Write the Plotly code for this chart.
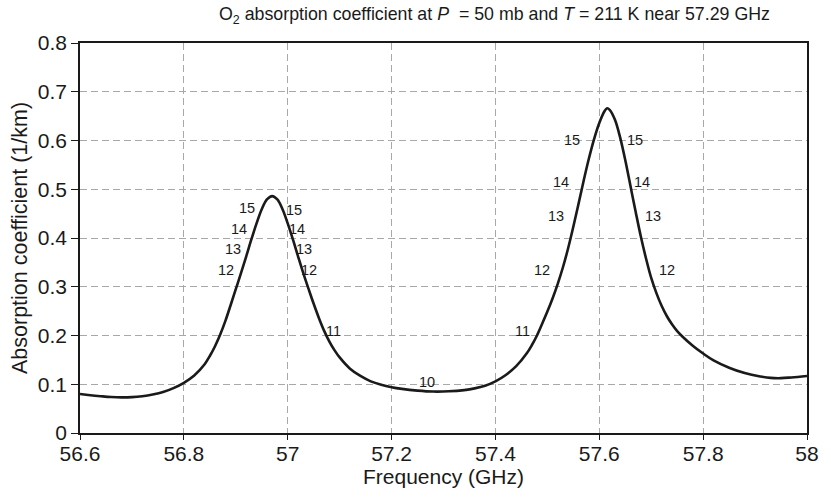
import plotly.graph_objects as go

# Curve
freq_ghz = [56.60, 56.62, 56.64, 56.66, 56.68, 56.70, 56.72, 56.74, 56.76, 56.78,
            56.80, 56.82, 56.84, 56.85, 56.86, 56.87, 56.88, 56.89, 56.90, 56.91,
            56.92, 56.93, 56.94, 56.95, 56.96, 56.97, 56.98, 56.99, 57.00, 57.01,
            57.02, 57.03, 57.04, 57.05, 57.06, 57.07, 57.08, 57.09, 57.10, 57.12,
            57.14, 57.16, 57.18, 57.20, 57.22, 57.25, 57.28, 57.31, 57.34, 57.36,
            57.38, 57.40, 57.42, 57.44, 57.46, 57.47, 57.48, 57.49, 57.50, 57.51,
            57.52, 57.53, 57.54, 57.55, 57.56, 57.57, 57.58, 57.59, 57.60, 57.61,
            57.615, 57.62, 57.63, 57.64, 57.65, 57.66, 57.67, 57.68, 57.69, 57.70,
            57.71, 57.72, 57.73, 57.74, 57.75, 57.76, 57.78, 57.80, 57.82, 57.85,
            57.88, 57.91, 57.93, 57.95, 57.97, 58.00]
absorption = [0.0800, 0.0775, 0.0755, 0.0738, 0.0730, 0.0735, 0.0755, 0.0790, 0.0840, 0.0920,
              0.103, 0.118, 0.141, 0.158, 0.178, 0.202, 0.230, 0.262, 0.295, 0.328,
              0.362, 0.397, 0.430, 0.459, 0.479, 0.486, 0.479, 0.459, 0.430, 0.397,
              0.362, 0.328, 0.296, 0.265, 0.236, 0.210, 0.188, 0.170, 0.155, 0.132,
              0.117, 0.106, 0.099, 0.094, 0.0905, 0.0870, 0.0850, 0.0855, 0.0880, 0.0915,
              0.097, 0.106, 0.119, 0.137, 0.163, 0.180, 0.200, 0.224, 0.249, 0.276,
              0.306, 0.340, 0.379, 0.423, 0.470, 0.518, 0.563, 0.603, 0.636, 0.660,
              0.666, 0.663, 0.643, 0.607, 0.560, 0.507, 0.454, 0.403, 0.358, 0.318,
              0.287, 0.261, 0.240, 0.223, 0.209, 0.198, 0.179, 0.163, 0.149, 0.134,
              0.123, 0.116, 0.1130, 0.1125, 0.114, 0.117]

# Line labels along the curve
label_text = ["15", "14", "13", "12", "15", "14", "13", "12", "11", "10",
              "11", "12", "13", "14", "15", "15", "14", "13", "12"]
label_x = [56.921, 56.906, 56.894, 56.881, 57.012, 57.017, 57.031, 57.041, 57.088, 57.268,
           57.452, 57.490, 57.516, 57.526, 57.548, 57.668, 57.682, 57.703, 57.731]
label_y = [0.461, 0.418, 0.377, 0.334, 0.457, 0.418, 0.377, 0.334, 0.210, 0.105,
           0.210, 0.334, 0.445, 0.515, 0.602, 0.602, 0.515, 0.445, 0.334]

x_ticks = [56.6, 56.8, 57.0, 57.2, 57.4, 57.6, 57.8, 58.0]
x_tick_labels = ["56.6", "56.8", "57", "57.2", "57.4", "57.6", "57.8", "58"]
y_ticks = [0, 0.1, 0.2, 0.3, 0.4, 0.5, 0.6, 0.7, 0.8]
y_tick_labels = ["0", "0.1", "0.2", "0.3", "0.4", "0.5", "0.6", "0.7", "0.8"]

FONT = "Liberation Sans, Arial, sans-serif"
INK = "#1a1a1a"

fig = go.Figure()
fig.add_trace(go.Scatter(x=freq_ghz, y=absorption, mode="lines",
                         line=dict(color=INK, width=2.6, shape="spline", smoothing=1.0),
                         hoverinfo="skip", showlegend=False))

for t, x, y in zip(label_text, label_x, label_y):
    fig.add_annotation(x=x, y=y, text=t, showarrow=False,
                       font=dict(family=FONT, size=14.5, color=INK))

fig.add_annotation(xref="paper", yref="paper", x=0.5700, y=1.0, yshift=28,
                   xanchor="center", yanchor="middle", showarrow=False,
                   text="O<sub>2</sub> absorption coefficient at <i>P</i>  = 50 mb and <i>T</i> = 211 K near 57.29 GHz",
                   font=dict(family=FONT, size=17.8, color=INK))

axis_common = dict(showline=True, linecolor=INK, linewidth=1.6, mirror=True,
                   ticks="outside", tickcolor=INK, tickwidth=1.3,
                   showgrid=True, gridcolor="#a8a8a8", gridwidth=1, griddash="7px,4px",
                   zeroline=False, tickfont=dict(family=FONT, size=21, color=INK))

fig.update_layout(
    width=831, height=501,
    margin=dict(l=80, r=14, t=43, b=68),
    paper_bgcolor="white", plot_bgcolor="white",
    xaxis=dict(range=[56.6, 58.0], tickvals=x_ticks, ticktext=x_tick_labels, ticklen=5,
               ticklabelstandoff=-4,
               title=dict(text="Frequency (GHz)", font=dict(family=FONT, size=21, color=INK),
                          standoff=2),
               **axis_common),
    yaxis=dict(range=[0, 0.8], tickvals=y_ticks, ticktext=y_tick_labels, ticklen=7,
               title=dict(text="Absorption coefficient (1/km)",
                          font=dict(family=FONT, size=21.5, color=INK), standoff=4),
               **axis_common),
)

fig.write_html("out.html")
